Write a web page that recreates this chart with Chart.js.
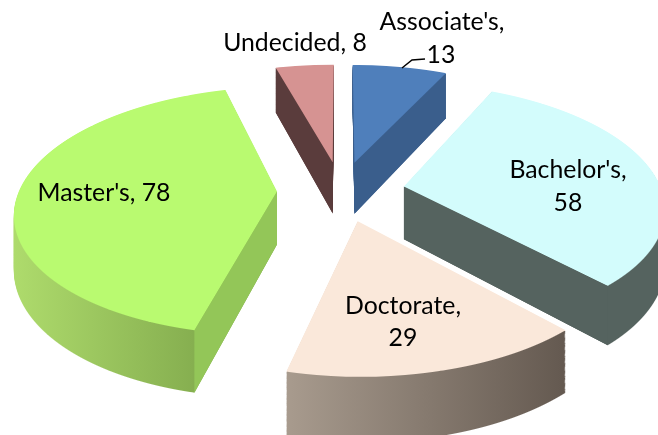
<!DOCTYPE html>
<html><head><meta charset="utf-8">
<style>html,body{margin:0;padding:0;background:#fff}canvas{display:block}</style>
<script src="https://cdn.jsdelivr.net/npm/chart.js@4"></script>
</head><body><canvas id="c" width="658" height="435"></canvas>
<script>
const categories = ["Associate's", "Bachelor's", "Doctorate", "Master's", "Undecided"];
const values = [13, 58, 29, 78, 8];
const topColors = ['#4f7fbb', '#d3fcfc', '#fae8da', '#b9fa70', '#d69392'];
const cutColors = ['#3a5e8c', '#55635f', '#6b6058', '#93c658', '#5a3c3c'];
const wallLeft = ['#3a5e8c', '#55635f', '#a89b8e', '#aedb6c', '#5a3c3c'];
const wallRight = ['#3a5e8c', '#55635f', '#645950', '#7fa74b', '#5a3c3c'];
const drawOrder = [4, 0, 3, 1, 2];
// label lines: [text, centre x, baseline y]
const labelLines = [
  [categories[0] + ',', 442, 30], [String(values[0]), 441, 63],
  [categories[1] + ',', 568, 178], [String(values[1]), 568, 211],
  [categories[2] + ',', 403, 314], [String(values[2]), 403, 346],
  [categories[3] + ', ' + values[3], 104, 201],
  [categories[4] + ', ' + values[4], 295, 51]
];
// camera model of the tilted, exploded pie
const cam = {cx: 341, cy: 191, A: 258, B: 121, a: 0.155, h: 53, explode: 0.248};

function yToWorld(y, z) { const d = y - cam.cy; return (cam.h * z - d) / (cam.B + cam.a * d); }
function project(X, Y, z) { const w = 1 + cam.a * Y; return [cam.cx + cam.A * X / w, cam.cy + (-cam.B * Y + cam.h * z) / w]; }

function geom(el) {
  const s = el.startAngle + Math.PI / 2, t = el.endAngle + Math.PI / 2, m = (s + t) / 2;
  return {R: el.outerRadius, ox: cam.explode * Math.sin(m), oy: cam.explode * Math.cos(m), s, t, m};
}
function rowsFor(g, z) {
  let lo = 1e9, hi = -1e9;
  const add = (X, Y) => { const p = project(X, Y, z); lo = Math.min(lo, p[1]); hi = Math.max(hi, p[1]); };
  add(g.ox, g.oy);
  for (let i = 0; i <= 40; i++) { const a = g.s + (g.t - g.s) * i / 40; add(g.ox + Math.sin(a), g.oy + Math.cos(a)); }
  return [Math.max(0, Math.floor(lo) - 1), Math.min(435, Math.ceil(hi) + 1)];
}
function warpDraw(ctx, el, g, z) {
  const [r0, r1] = rowsFor(g, z);
  for (let r = r0; r < r1; r++) {
    const Y0 = yToWorld(r, z), Y1 = yToWorld(r + 1, z), w = 1 + cam.a * (Y0 + Y1) / 2;
    const sx = cam.A / (w * g.R), sy = -1 / (g.R * (Y1 - Y0));
    ctx.save();
    ctx.setTransform(1, 0, 0, 1, 0, 0);
    ctx.beginPath(); ctx.rect(0, r, 658, 1); ctx.clip();
    ctx.setTransform(sx, 0, 0, sy, cam.cx + cam.A * g.ox / w - sx * el.x, r + (el.y / g.R + g.oy - Y0) / (Y1 - Y0));
    el.draw(ctx);
    ctx.restore();
  }
}
function withFill(el, color, fn) {
  const o = el.options;
  el.options = {backgroundColor: color, borderColor: color, borderWidth: 0, offset: 0, spacing: 0,
    borderRadius: 0, circular: true, borderAlign: 'center', borderJoinStyle: 'round', borderDash: [], borderDashOffset: 0};
  fn(); el.options = o;
}
const tiltPlugin = {
  id: 'tilt',
  beforeDatasetDraw() { return false; },
  afterDatasetsDraw(chart) {
    const main = chart.ctx, els = chart.getDatasetMeta(0).data;
    drawOrder.forEach(i => {
      const el = els[i], g = geom(el);
      const off = document.createElement('canvas'); off.width = 658; off.height = 435;
      const o = off.getContext('2d');
      withFill(el, '#000', () => { for (let z = 1; z >= 0.01; z -= 1 / cam.h) warpDraw(o, el, g, z); });
      // outer wall shading, left to right across the slice
      let xl = 1e9, xr = -1e9;
      for (let k = 0; k <= 40; k++) { const a = g.s + (g.t - g.s) * k / 40, p = project(g.ox + Math.sin(a), g.oy + Math.cos(a), 0); xl = Math.min(xl, p[0]); xr = Math.max(xr, p[0]); }
      const gr = o.createLinearGradient(xl, 0, xr, 0);
      gr.addColorStop(0, wallLeft[i]); gr.addColorStop(1, wallRight[i]);
      o.globalCompositeOperation = 'source-atop'; o.fillStyle = gr; o.fillRect(0, 0, 658, 435);
      o.globalCompositeOperation = 'source-over';
      // cut faces that look toward the viewer
      o.fillStyle = cutColors[i];
      const apex = project(g.ox, g.oy, 0), mid = project(g.ox + Math.sin(g.m), g.oy + Math.cos(g.m), 0);
      [g.s, g.t].forEach(a => {
        const ex = g.ox + Math.sin(a), ey = g.oy + Math.cos(a), c = project(ex, ey, 0);
        if (Math.abs(c[0] - apex[0]) < 1) return;
        const lineY = apex[1] + (c[1] - apex[1]) / (c[0] - apex[0]) * (mid[0] - apex[0]);
        if (mid[1] >= lineY) return;
        const P = [apex, c, project(ex, ey, 1), project(g.ox, g.oy, 1)];
        o.beginPath(); P.forEach((p, n) => n ? o.lineTo(p[0], p[1]) : o.moveTo(p[0], p[1])); o.closePath(); o.fill();
      });
      withFill(el, topColors[i], () => warpDraw(o, el, g, 0));
      main.save(); main.setTransform(1, 0, 0, 1, 0, 0); main.drawImage(off, 0, 0); main.restore();
    });
    // labels
    main.save();
    main.fillStyle = '#000'; main.textAlign = 'center'; main.textBaseline = 'alphabetic';
    main.font = '24.8px Lato';
    labelLines.forEach(l => main.fillText(l[0], l[1], l[2]));
    main.strokeStyle = '#000'; main.lineWidth = 1.5;
    main.beginPath(); main.moveTo(402, 68); main.lineTo(412, 60); main.lineTo(425, 59); main.stroke();
    main.restore();
  }
};
new Chart(document.getElementById('c'), {
  type: 'pie',
  data: {labels: categories, datasets: [{data: values, backgroundColor: topColors, borderWidth: 0}]},
  options: {responsive: false, animation: false, layout: {padding: 0},
    plugins: {legend: {display: false}, tooltip: {enabled: false}}},
  plugins: [tiltPlugin]
});
</script></body></html>
